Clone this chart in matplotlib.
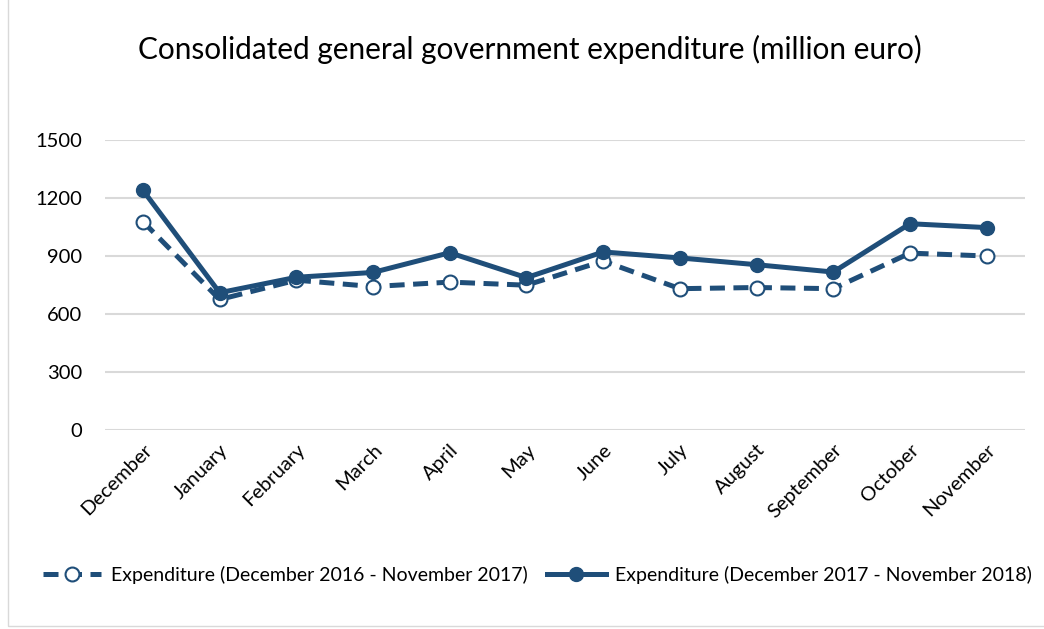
import matplotlib.pyplot as plt
from matplotlib.patches import Rectangle

# months on the x axis
months = ["December", "January", "February", "March", "April", "May", "June",
          "July", "August", "September", "October", "November"]

# expenditure, million euro
exp_2016_2017 = [1078, 675, 775, 742, 765, 749, 874, 731, 737, 731, 915, 900]
exp_2017_2018 = [1240, 710, 790, 815, 917, 788, 921, 890, 855, 817, 1067, 1047]

label_old = "Expenditure (December 2016 - November 2017)"
label_new = "Expenditure (December 2017 - November 2018)"

plt.rcParams['font.family'] = ['Lato', 'DejaVu Sans']
color = "#1F4E79"

fig = plt.figure(figsize=(10.44, 6.29), dpi=100)
ax = fig.add_axes([0.1002, 0.3164, 0.8816, 0.461])

x = range(len(months))
ax.plot(x, exp_2016_2017, color=color, lw=3.6, ls=(0, (3, 1.7)), marker="o",
        markersize=10, markerfacecolor="white", markeredgecolor=color,
        markeredgewidth=1.5, label=label_old)
ax.plot(x, exp_2017_2018, color=color, lw=3.6, marker="o", markersize=10,
        markerfacecolor=color, markeredgecolor=color, label=label_new)

ax.set_xlim(-0.5, len(months) - 0.5)
ax.set_ylim(0, 1500)
ax.set_yticks([0, 300, 600, 900, 1200, 1500])
ax.set_xticks(list(x))
ax.set_xticklabels(months, rotation=45, ha="right", rotation_mode="anchor")
ax.tick_params(axis="both", length=0, labelsize=14.5, colors="#000000")
ax.tick_params(axis="x", pad=8)
ax.tick_params(axis="y", pad=16)
ax.grid(axis="y", color="#D9D9D9", lw=1.5)
ax.set_axisbelow(True)
for s in ax.spines.values():
    s.set_visible(False)

fig.text(0.508, 0.922, "Consolidated general government expenditure (million euro)",
         ha="center", va="center", fontsize=21.4)

fig.legend(loc="center", bbox_to_anchor=(0.515, 0.086), ncol=2, frameon=False,
           fontsize=14, handlelength=3.0, columnspacing=1.0, handletextpad=0.5)

# chart area border like the Excel export
fig.patches.append(Rectangle((0.008, 0.005), 1.2, 1.2, transform=fig.transFigure,
                             fill=False, edgecolor="#D9D9D9", lw=1))

fig.savefig("out.png", dpi=100)
